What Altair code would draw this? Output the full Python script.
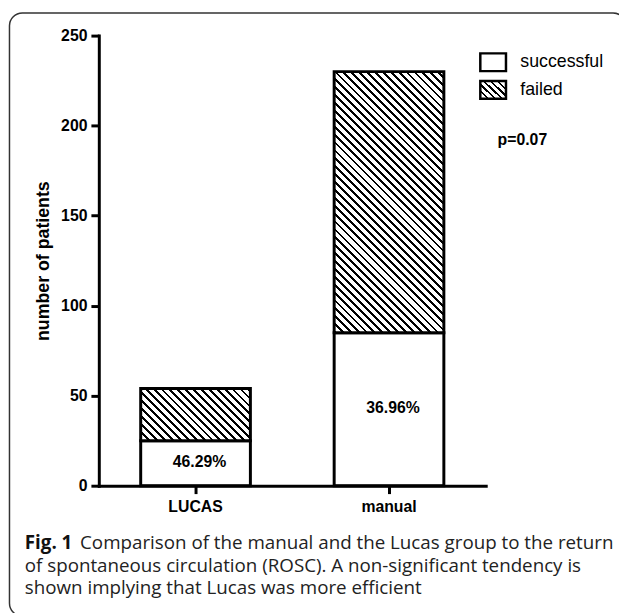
import math
import altair as alt
import pandas as pd

# ---- data ----
groups = ["LUCAS", "manual"]
successful = [25, 85]
failed = [29, 145]
pct_labels = ["46.29%", "36.96%"]
legend_labels = ["successful", "failed"]
p_text = "p=0.07"
caption_bold = "Fig. 1"
caption_lines = [
    "Comparison of the manual and the Lucas group to the return",
    "of spontaneous circulation (ROSC). A non-significant tendency is",
    "shown implying that Lucas was more efficient",
]
y_ticks = [0, 50, 100, 150, 200, 250]

df = pd.DataFrame({
    "group": groups,
    "successful": successful,
    "failed": failed,
    "label": pct_labels,
})
df["total"] = df["successful"] + df["failed"]

# ---- layout ----
W, H = 392, 456
Y_MAX = 250
P_IN, P_OUT = 0.433, 0.2165
step = W / (len(groups) - P_IN + 2 * P_OUT)
bandw = step * (1 - P_IN)
px_per_unit = H / Y_MAX

AX = "Liberation Sans"
CAP = "Open Sans"


def hatch(w, h, spacing=8.0, frac=0.36):
    """Diagonal (\\) hatch as a linear gradient in bounding-box units."""
    n = (w + h) / spacing
    s = (w + h) / (w * w + h * h)
    stops = []
    for k in range(int(math.ceil(n))):
        a = min(k / n, 1.0)
        b = min((k + frac) / n, 1.0)
        c = min((k + 1) / n, 1.0)
        stops += [
            {"offset": a, "color": "black"},
            {"offset": b, "color": "black"},
            {"offset": b, "color": "white"},
            {"offset": c, "color": "white"},
        ]
    return {"gradient": "linear", "x1": 0, "y1": 1,
            "x2": s * w, "y2": 1 - s * h, "stops": stops}


xscale = alt.Scale(domain=groups, paddingInner=P_IN, paddingOuter=P_OUT)
yscale = alt.Scale(domain=[0, Y_MAX], nice=False)

x_axis = alt.Axis(title=None, labelAngle=0, labelFont=AX, labelFontSize=16,
                  labelFontWeight="bold", labelColor="black", labelPadding=5,
                  tickSize=8, tickWidth=3, tickColor="black",
                  domainWidth=3, domainColor="black", domainCap="square",
                  grid=False, zindex=2)
y_axis = alt.Axis(title="number of patients", values=y_ticks, labelFont=AX,
                  labelFontSize=16, labelFontWeight="bold", labelColor="black",
                  labelPadding=4, tickSize=8, tickWidth=3, tickColor="black",
                  domainWidth=3, domainColor="black", domainCap="square",
                  grid=False, titleFont=AX, titleFontSize=18,
                  titleFontWeight="bold", titleColor="black", titlePadding=8,
                  zindex=2)

X = alt.X("group:N", scale=xscale, axis=x_axis, sort=groups)

base = alt.Chart(df)

succ_bars = base.mark_bar(fill="white", stroke="black", strokeWidth=3).encode(
    x=X,
    y=alt.Y("successful:Q", scale=yscale, axis=y_axis),
)

fail_layers = []
for g in groups:
    row = df[df["group"] == g].iloc[0]
    h_px = (row["total"] - row["successful"]) * px_per_unit
    fail_layers.append(
        base.transform_filter(alt.datum.group == g).mark_bar(
            fill=hatch(bandw, h_px), stroke="black", strokeWidth=3
        ).encode(
            x=X,
            y=alt.Y("successful:Q", scale=yscale, axis=y_axis),
            y2="total:Q",
        )
    )

pct_text = base.transform_calculate(mid="datum.successful / 2").mark_text(
    font=AX, fontSize=16, fontWeight="bold", color="black", dx=4, dy=-1
).encode(
    x=X,
    y=alt.Y("mid:Q", scale=yscale, axis=y_axis),
    text="label:N",
)

one = alt.Chart(pd.DataFrame({"k": [0]}))

frame = one.mark_rect(fill="white", fillOpacity=0, stroke="#333333",
                      strokeWidth=1.5, cornerRadius=13).encode(
    x=alt.value(-90.5), x2=alt.value(534), y=alt.value(-23), y2=alt.value(588)
)

leg_succ = one.mark_rect(fill="white", stroke="black", strokeWidth=2.5).encode(
    x=alt.value(386.5), x2=alt.value(412.5), y=alt.value(18), y2=alt.value(36)
)
leg_fail = one.mark_rect(fill=hatch(26, 19, spacing=7), stroke="black",
                         strokeWidth=2.5).encode(
    x=alt.value(386.5), x2=alt.value(412.5), y=alt.value(46), y2=alt.value(64)
)
leg_t1 = one.mark_text(font=AX, fontSize=18, align="left", baseline="middle",
                       color="black").encode(
    x=alt.value(427), y=alt.value(27), text=alt.value(legend_labels[0]))
leg_t2 = one.mark_text(font=AX, fontSize=18, align="left", baseline="middle",
                       color="black").encode(
    x=alt.value(427), y=alt.value(55), text=alt.value(legend_labels[1]))
p_mark = one.mark_text(font=AX, fontSize=16, fontWeight="bold", align="left",
                       baseline="middle", color="black").encode(
    x=alt.value(404), y=alt.value(106), text=alt.value(p_text))

CAP_SIZE = 19
cap_b = one.mark_text(font=CAP, fontSize=CAP_SIZE, fontWeight="bold",
                      align="left", baseline="alphabetic",
                      color="#111111").encode(
    x=alt.value(-75), y=alt.value(520), text=alt.value(caption_bold))
cap_layers = [cap_b]
cap_x = [-19, -75, -75]
cap_y = [520, 543, 566]
for t, cx, cy in zip(caption_lines, cap_x, cap_y):
    cap_layers.append(
        one.mark_text(font=CAP, fontSize=CAP_SIZE, align="left",
                      baseline="alphabetic", color="#222222").encode(
            x=alt.value(cx), y=alt.value(cy), text=alt.value(t))
    )

chart = alt.layer(
    succ_bars, *fail_layers, pct_text, frame,
    leg_succ, leg_fail, leg_t1, leg_t2, p_mark, *cap_layers
).properties(
    width=W, height=H,
    autosize=alt.AutoSizeParams(type="none"),
    padding={"left": 92, "top": 24, "right": 135, "bottom": 125},
    background="white",
).configure_view(stroke=None)

chart.save("out.html", embed_options={"renderer": "svg", "actions": False})
